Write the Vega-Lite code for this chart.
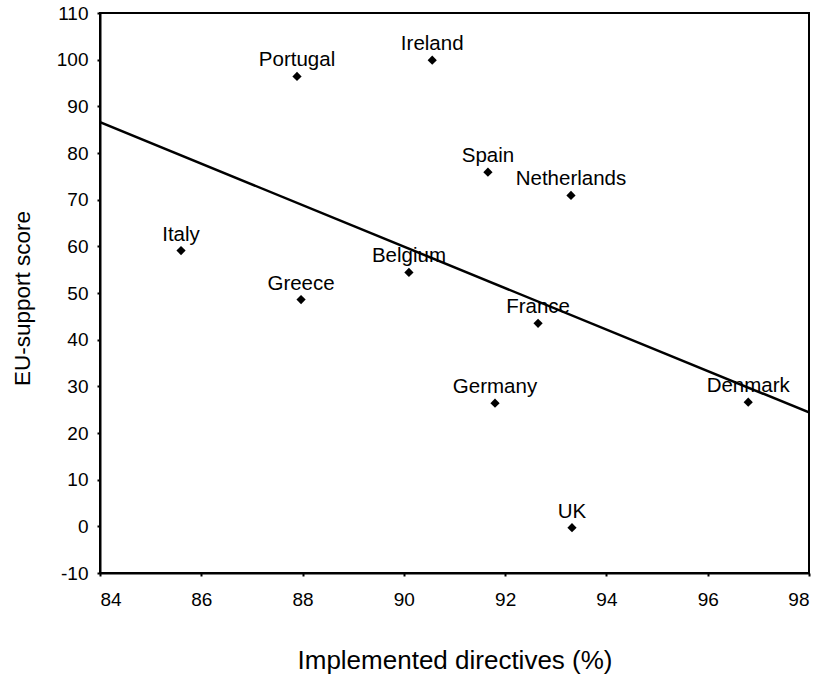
{
  "$schema": "https://vega.github.io/schema/vega-lite/v6.json",
  "width": 709,
  "height": 560,
  "autosize": "none",
  "padding": {"left": 100, "top": 13, "right": 9, "bottom": 102},
  "background": "white",
  "config": {
    "view": {"stroke": "black", "strokeWidth": 2},
    "font": "Liberation Sans",
    "axis": {
      "domainColor": "black", "domainWidth": 2, "tickColor": "black", "tickSize": 3, "tickWidth": 2,
      "labelColor": "black", "titleColor": "black", "grid": false,
      "labelFont": "Liberation Sans", "titleFont": "Liberation Sans", "titleFontWeight": "normal"
    }
  },
  "datasets": {
    "countries": [
      {"country": "Portugal", "implemented": 87.89, "support": 96.4},
      {"country": "Ireland", "implemented": 90.56, "support": 99.9},
      {"country": "Spain", "implemented": 91.66, "support": 75.9},
      {"country": "Netherlands", "implemented": 93.3, "support": 70.9},
      {"country": "Italy", "implemented": 85.6, "support": 59.1},
      {"country": "Belgium", "implemented": 90.1, "support": 54.4},
      {"country": "Greece", "implemented": 87.97, "support": 48.6},
      {"country": "France", "implemented": 92.65, "support": 43.5},
      {"country": "Germany", "implemented": 91.8, "support": 26.4},
      {"country": "Denmark", "implemented": 96.8, "support": 26.6},
      {"country": "UK", "implemented": 93.32, "support": -0.3}
    ],
    "fit": [
      {"implemented": 84, "support": 86.6},
      {"implemented": 98, "support": 24.4}
    ]
  },
  "encoding": {
    "x": {
      "field": "implemented", "type": "quantitative",
      "scale": {"domain": [84, 98], "nice": false, "zero": false},
      "axis": {"values": [84, 86, 88, 90, 92, 94, 96, 98], "title": "Implemented directives (%)",
        "labelFontSize": 19, "labelPadding": 14, "titleFontSize": 26, "titlePadding": 38}
    },
    "y": {
      "field": "support", "type": "quantitative",
      "scale": {"domain": [-10, 110], "nice": false, "zero": false},
      "axis": {"values": [-10, 0, 10, 20, 30, 40, 50, 60, 70, 80, 90, 100, 110], "title": "EU-support score",
        "labelExpr": "replace(datum.label, '−', '-')",
        "labelFontSize": 19, "labelPadding": 9, "titleFontSize": 22.5, "titlePadding": 22, "titleY": 285}
    }
  },
  "layer": [
    {
      "data": {"name": "fit"},
      "mark": {"type": "line", "color": "black", "strokeWidth": 2.5, "clip": true}
    },
    {
      "data": {"name": "countries"},
      "mark": {"type": "point", "shape": "diamond", "filled": true, "color": "black", "opacity": 1, "size": 85}
    },
    {
      "data": {"name": "countries"},
      "mark": {"type": "text", "align": "center", "baseline": "alphabetic", "dy": -10, "fontSize": 20.5, "color": "black"},
      "encoding": {"text": {"field": "country"}}
    }
  ]
}
